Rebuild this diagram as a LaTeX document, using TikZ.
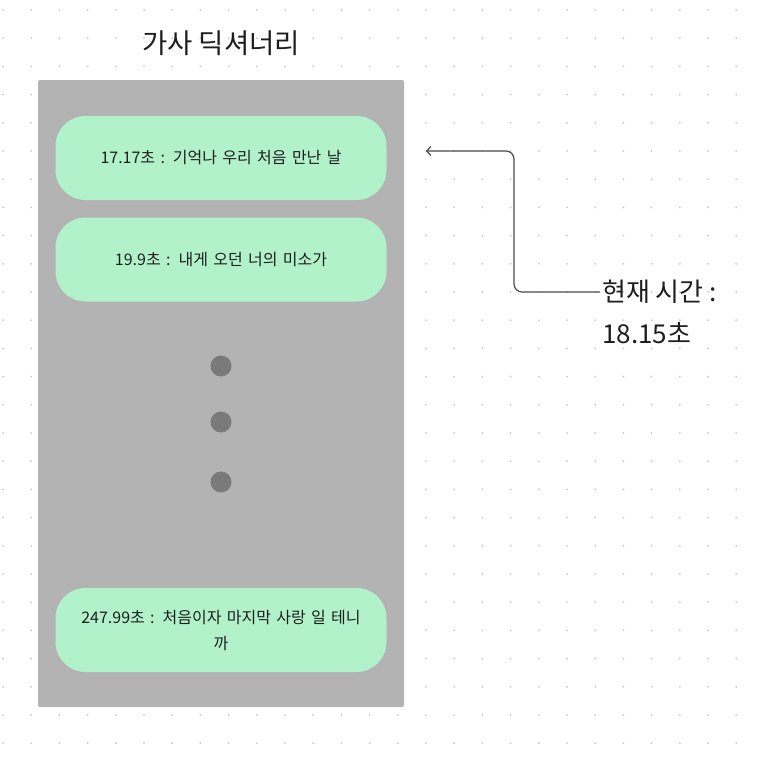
\documentclass[tikz,border=0pt]{standalone}
\usepackage{fontspec}
\setmainfont{Noto Sans CJK KR}
\usepackage{xcolor}
\usepackage{tikz}
\usetikzlibrary{arrows.meta}
\definecolor{panelgray}{RGB}{179,179,179}
\definecolor{lyricgreen}{RGB}{178,242,203}
\definecolor{dotgray}{RGB}{122,122,122}
\definecolor{inkdark}{RGB}{30,30,30}
\definecolor{gridgray}{RGB}{200,200,200}

\begin{document}
\begin{tikzpicture}[x=1pt,y=-1pt,
lyric/.style={fill=lyricgreen,rounded corners=30pt,minimum width=331pt,minimum height=84pt,text width=320pt,align=center,inner sep=0pt,text=inkdark,font=\fontsize{16}{26}\selectfont},
ellip/.style={circle,fill=dotgray,minimum size=21pt,inner sep=0pt}]
\useasboundingbox(0,0)rectangle(762,760);
\fill[white](0,0)rectangle(762,760);
\foreach \i in {0,...,26}{\foreach \j in {0,...,26}{\fill[gridgray](3+28.2*\i,10+28.2*\j)circle(1pt);}}
\fill[panelgray,rounded corners=2pt](38,80)rectangle(404,707);
\node[text=inkdark,font=\fontsize{27.5}{32}\selectfont](title)at(221,43){가사 딕셔너리};
\node[lyric](ly1)at(221,158){17.17초 : 기억나 우리 처음 만난 날};
\node[lyric](ly2)at(221,259.5){19.9초 : 내게 오던 너의 미소가};
\node[ellip](e1)at(221,366){};\node[ellip](e2)at(221,422){};\node[ellip](e3)at(221,482){};
\node[lyric](ly3)at(221,630){247.99초 : 처음이자 마지막 사랑 일 테니\\까};
\node[anchor=west,inner sep=2pt,text=inkdark,font=\fontsize{26}{30}\selectfont](nowlbl)at(600,292){현재 시간 :};
\node[anchor=west,inner sep=2pt,text=inkdark,font=\fontsize{26}{30}\selectfont](nowval)at(600,333.5){18.15초};
\coordinate(tip)at(426,151);\coordinate(bend)at(514,151);
\draw[-{Straight Barb[length=4pt,width=9pt]},line width=1.2pt,draw=inkdark!80,rounded corners=8pt](nowlbl.west)-|(bend)--(tip);
\end{tikzpicture}
\end{document}
